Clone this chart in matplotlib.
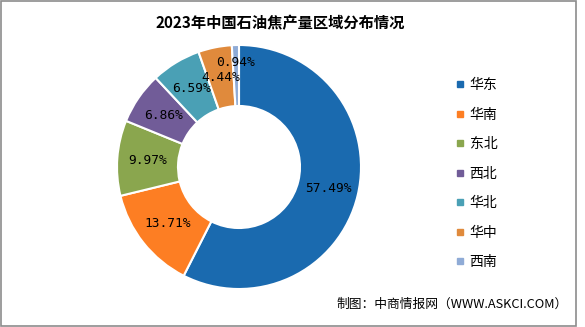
import matplotlib as mpl
import matplotlib.pyplot as plt
from matplotlib.patches import Rectangle
from matplotlib.lines import Line2D

# fontset
mpl.rcParams["font.family"] = ["Noto Sans CJK SC", "DejaVu Sans"]
mpl.rcParams["axes.unicode_minus"] = False

# data
regions = ["华东", "华南", "东北", "西北", "华北", "华中", "西南"]
shares = [57.49, 13.71, 9.97, 6.86, 6.59, 4.44, 0.94]
colors = ["#1a6aaf", "#fd7e23", "#8aa64e", "#715c98", "#4aa0b5", "#e08a3c", "#8fabd6"]

W, H = 585, 327
fig = plt.figure(figsize=(W / 100, H / 100), dpi=100)

# donut: centre (239,167) px, outer radius 122 px
cx, cy, r = 239, 167, 122
ax = fig.add_axes([(cx - r) / W, (H - cy - r) / H, 2 * r / W, 2 * r / H])
wedges, texts, autotexts = ax.pie(
    shares, colors=colors, startangle=90, counterclock=False,
    radius=1, autopct=lambda p: "", pctdistance=0.75,
    wedgeprops=dict(width=0.5, edgecolor="white", linewidth=1.5))
ax.set_xlim(-1, 1)
ax.set_ylim(-1, 1)
ax.set_aspect("equal")
ax.axis("off")

for i, t in enumerate(autotexts):
    t.set_text(f"{shares[i]}%")
    t.set_fontfamily("DejaVu Sans Mono")
    t.set_fontsize(9.3)
    t.set_color("black")
    if i == len(shares) - 1:
        x, y = t.get_position()
        t.set_position((x * 0.86 / 0.75, y * 0.86 / 0.75))

# title
fig.text(280 / W, 1 - 23 / H, "2023年中国石油焦产量区域分布情况",
         ha="center", va="center", fontsize=11, fontweight="bold")

# legend
handles = [Line2D([], [], marker="s", linestyle="none", markersize=5,
                  markerfacecolor=c, markeredgecolor=c) for c in colors]
fig.legend(handles, regions, loc="upper left",
           bbox_to_anchor=(446 / W, 1 - 71 / H), frameon=False,
           fontsize=10, labelspacing=1.12, handletextpad=0.2,
           handlelength=1.0, borderpad=0)

# footer
fig.text(568 / W, 1 - 304 / H, "制图：中商情报网（WWW.ASKCI.COM）",
         ha="right", va="center", fontsize=9.2)

# border
fig.patches.append(Rectangle((1 / W, 1 / H), 575 / W, 325 / H,
                             transform=fig.transFigure, fill=False,
                             edgecolor="#8c8c8c", linewidth=1.2))

plt.savefig("out.png", dpi=100)
